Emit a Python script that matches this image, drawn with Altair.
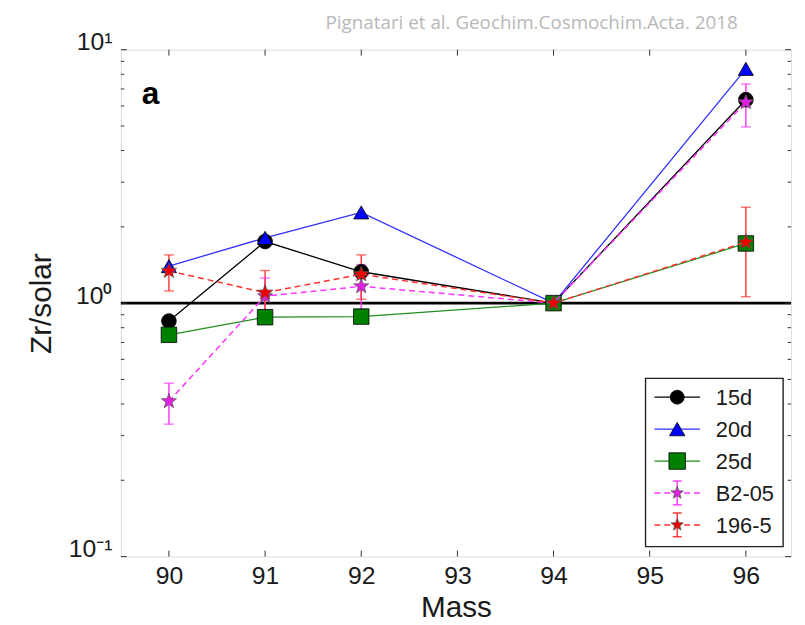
import math
import altair as alt
import pandas as pd

# ---------------- data ----------------
masses = [90, 91, 92, 94, 96]
zr_15d = [0.85, 1.75, 1.33, 1.0, 6.35]
zr_20d = [1.40, 1.81, 2.28, 1.0, 8.4]
zr_25d = [0.75, 0.88, 0.885, 1.0, 1.72]

b205 = [0.41, 1.065, 1.165, 1.0, 6.2]
b205_lo = [0.333, 0.90, 0.945, None, 4.96]
b205_hi = [0.483, 1.255, 1.42, None, 7.32]

r1965 = [1.34, 1.10, 1.30, 1.0, 1.74]
r1965_lo = [1.117, 0.838, 1.036, None, 1.06]
r1965_hi = [1.55, 1.345, 1.55, None, 2.39]

model_names = ["15d", "20d", "25d"]
obs_names = ["B2-05", "196-5"]
series_names = model_names + obs_names

x_tick_values = [90, 91, 92, 93, 94, 95, 96]
y_major_ticks = [0.1, 1, 10]
y_minor_ticks = [0.2, 0.3, 0.4, 0.5, 0.6, 0.7, 0.8, 0.9, 2, 3, 4, 5, 6, 7, 8, 9]

title_text = "Pignatari et al. Geochim.Cosmochim.Acta. 2018"

# ---------------- style ----------------
def star_path(inner=0.42):
    pts = []
    for k in range(10):
        r = 1.0 if k % 2 == 0 else inner
        a = math.radians(-90 + 36 * k)
        pts.append(f"{r * math.cos(a):.3f},{r * math.sin(a):.3f}")
    return "M" + "L".join(pts) + "Z"

STAR = star_path()
line_colors = ["#000000", "#3030ff", "#1f8f1f", "#ff33ff", "#ff3030"]
fill_colors = ["#000000", "#0000ff", "#008000", "#e020e0", "#ee0000"]
shapes = ["circle", "triangle-up", "square", STAR, STAR]
sizes = [220, 270, 310, 190, 190]
dashes = [[1, 0], [1, 0], [1, 0], [6, 4], [6, 4]]

W, H = 677, 512
FONT = "Liberation Sans"
INK = "#1a1a1a"

x_scale = alt.Scale(domain=[89.5, 96.47], nice=False, zero=False)
y_scale = alt.Scale(type="log", domain=[0.1, 10], nice=False)

x_axis = alt.Axis(values=x_tick_values, title="Mass", titleFontSize=30, titleFont=FONT,
                  titleFontWeight="normal", titleColor=INK, titleY=61,
                  titleBaseline="alphabetic", labelFontSize=25, labelFont=FONT,
                  labelColor=INK, labelPadding=7, ticks=False, domain=False, grid=False,
                  labelFlush=False, format="d")
y_axis = alt.Axis(values=y_major_ticks,
                  labelExpr="datum.value >= 5 ? '10\u00b9' : datum.value >= 0.5 ? '10\u2070' : '10\u207b\u00b9'",
                  title="Zr/solar", titleFontSize=30, titleFont=FONT, titleFontWeight="normal",
                  titleColor=INK, titleX=-80, titleY=H / 2, titleAlign="center",
                  titleBaseline="middle", labelFontSize=25, labelFont=FONT, labelColor=INK,
                  labelPadding=9, labelBaseline="alphabetic", ticks=False, domain=False,
                  grid=False)

X = lambda f: alt.X(f, scale=x_scale, axis=x_axis)
Y = lambda f: alt.Y(f, scale=y_scale, axis=y_axis)

color_scale = alt.Scale(domain=series_names, range=line_colors)
fill_scale = alt.Scale(domain=series_names, range=fill_colors)
shape_scale = alt.Scale(domain=series_names, range=shapes)
size_scale = alt.Scale(domain=series_names, range=sizes)
dash_scale = alt.Scale(domain=series_names, range=dashes)

# ---------------- tables ----------------
model_rows = []
for name, vals in zip(model_names, [zr_15d, zr_20d, zr_25d]):
    for i, (m, v) in enumerate(zip(masses, vals)):
        model_rows.append({"series": name, "mass": m, "value": v, "order": i})
model_df = pd.DataFrame(model_rows)

obs_rows = []
for name, vals, los, his in [("B2-05", b205, b205_lo, b205_hi),
                             ("196-5", r1965, r1965_lo, r1965_hi)]:
    for i, (m, v, lo, hi) in enumerate(zip(masses, vals, los, his)):
        obs_rows.append({"series": name, "mass": m, "value": v, "lo": lo, "hi": hi, "order": i})
obs_df = pd.DataFrame(obs_rows)
err_df = obs_df.dropna(subset=["lo", "hi"])

# ---------------- layers ----------------
hline = alt.Chart(pd.DataFrame({"v": [1.0]})).mark_rule(color="#000000", strokeWidth=2.6).encode(
    y=Y("v:Q"))

model_lines = alt.Chart(model_df).mark_line(strokeWidth=1.3).encode(
    x=X("mass:Q"), y=Y("value:Q"), order="order:Q",
    color=alt.Color("series:N", scale=color_scale, legend=None),
    detail="series:N")

err_rules = alt.Chart(err_df).mark_rule(strokeWidth=1.4).encode(
    x=X("mass:Q"), y=Y("lo:Q"), y2="hi:Q",
    color=alt.Color("series:N", scale=color_scale, legend=None))
err_cap_lo = alt.Chart(err_df).mark_tick(orient="horizontal", size=10, thickness=1.4).encode(
    x=X("mass:Q"), y=Y("lo:Q"),
    color=alt.Color("series:N", scale=color_scale, legend=None))
err_cap_hi = alt.Chart(err_df).mark_tick(orient="horizontal", size=10, thickness=1.4).encode(
    x=X("mass:Q"), y=Y("hi:Q"),
    color=alt.Color("series:N", scale=color_scale, legend=None))

model_pts = alt.Chart(model_df).mark_point(filled=True, opacity=1, stroke="#000000",
                                           strokeWidth=0.8).encode(
    x=X("mass:Q"), y=Y("value:Q"),
    fill=alt.Fill("series:N", scale=fill_scale, legend=None),
    shape=alt.Shape("series:N", scale=shape_scale, legend=None),
    size=alt.Size("series:N", scale=size_scale, legend=None))

obs_lines = alt.Chart(obs_df).mark_line(strokeWidth=1.5).encode(
    x=X("mass:Q"), y=Y("value:Q"), order="order:Q",
    color=alt.Color("series:N", scale=color_scale, legend=None),
    strokeDash=alt.StrokeDash("series:N", scale=dash_scale, legend=None))

obs_pts = alt.Chart(obs_df).mark_point(filled=True, opacity=1, stroke="#555555",
                                       strokeWidth=0.7).encode(
    x=X("mass:Q"), y=Y("value:Q"),
    fill=alt.Fill("series:N", scale=fill_scale, legend=None),
    shape=alt.Shape("series:N", scale=shape_scale, legend=None),
    size=alt.Size("series:N", scale=size_scale, legend=None))

# inward ticks
xt = pd.DataFrame({"tick": x_tick_values})
tick_layers = [
    alt.Chart(xt).mark_rule(color="#333333", strokeWidth=1).encode(
        x=X("tick:Q"), y=alt.value(H), y2=alt.value(H - 6)),
    alt.Chart(xt).mark_rule(color="#333333", strokeWidth=1).encode(
        x=X("tick:Q"), y=alt.value(0), y2=alt.value(6)),
]
for vals, ln in [(y_major_ticks, 6), (y_minor_ticks, 3.5)]:
    yt = pd.DataFrame({"tick": vals})
    tick_layers.append(alt.Chart(yt).mark_rule(color="#333333", strokeWidth=1).encode(
        y=Y("tick:Q"), x=alt.value(0), x2=alt.value(ln)))
    tick_layers.append(alt.Chart(yt).mark_rule(color="#333333", strokeWidth=1).encode(
        y=Y("tick:Q"), x=alt.value(W - ln), x2=alt.value(W)))

one = pd.DataFrame({"a": [0]})

panel_label = alt.Chart(one).mark_text(text="a", font=FONT, fontSize=32, fontWeight="bold",
                                       align="left", baseline="alphabetic", color="#000000").encode(
    x=alt.value(21), y=alt.value(55))

title_mark = alt.Chart(one).mark_text(text=title_text, font="Open Sans", fontSize=19,
                                      color="#b8b8b8", align="center", baseline="middle").encode(
    x=alt.value(415), y=alt.value(-27))

# custom legend
LX0, LX1, LY0, LY1 = 530, 669, 332, 502
legend_layers = [alt.Chart(one).mark_rect(fill="white", stroke="#222222", strokeWidth=1.4).encode(
    x=alt.value(LX0), x2=alt.value(LX1), y=alt.value(LY0), y2=alt.value(LY1))]
for i, name in enumerate(series_names):
    ry = 351 + 32.25 * i
    is_obs = name in obs_names
    legend_layers.append(alt.Chart(one).mark_rule(
        color=line_colors[i], strokeWidth=1.5 if is_obs else 1.3,
        strokeDash=dashes[i]).encode(
        x=alt.value(539), x2=alt.value(585), y=alt.value(ry)))
    if is_obs:
        legend_layers.append(alt.Chart(one).mark_rule(color=line_colors[i], strokeWidth=1.4).encode(
            x=alt.value(562), y=alt.value(ry - 12), y2=alt.value(ry + 12)))
        for cy in (ry - 12, ry + 12):
            legend_layers.append(alt.Chart(one).mark_rule(color=line_colors[i], strokeWidth=1.4).encode(
                x=alt.value(557.5), x2=alt.value(566.5), y=alt.value(cy)))
    legend_layers.append(alt.Chart(one).mark_point(
        shape=shapes[i], size=sizes[i] * 0.9, filled=True, opacity=1, fill=fill_colors[i],
        stroke="#555555" if is_obs else "#000000", strokeWidth=0.8).encode(
        x=alt.value(562), y=alt.value(ry)))
    legend_layers.append(alt.Chart(one).mark_text(
        text=name, font=FONT, fontSize=22, align="left", baseline="middle", color=INK).encode(
        x=alt.value(601), y=alt.value(ry + 1)))

chart = alt.layer(
    hline, model_lines, err_rules, err_cap_lo, err_cap_hi, model_pts, obs_lines, obs_pts,
    *tick_layers, panel_label, title_mark, *legend_layers
).properties(
    width=W, height=H,
    autosize=alt.AutoSizeParams(type="none"),
    padding={"left": 114, "top": 39, "right": 6, "bottom": 66},
).configure_view(stroke="#222222", strokeWidth=1.6).configure(background="white")

chart.save("out.html", embed_options={"renderer": "svg", "actions": False})
